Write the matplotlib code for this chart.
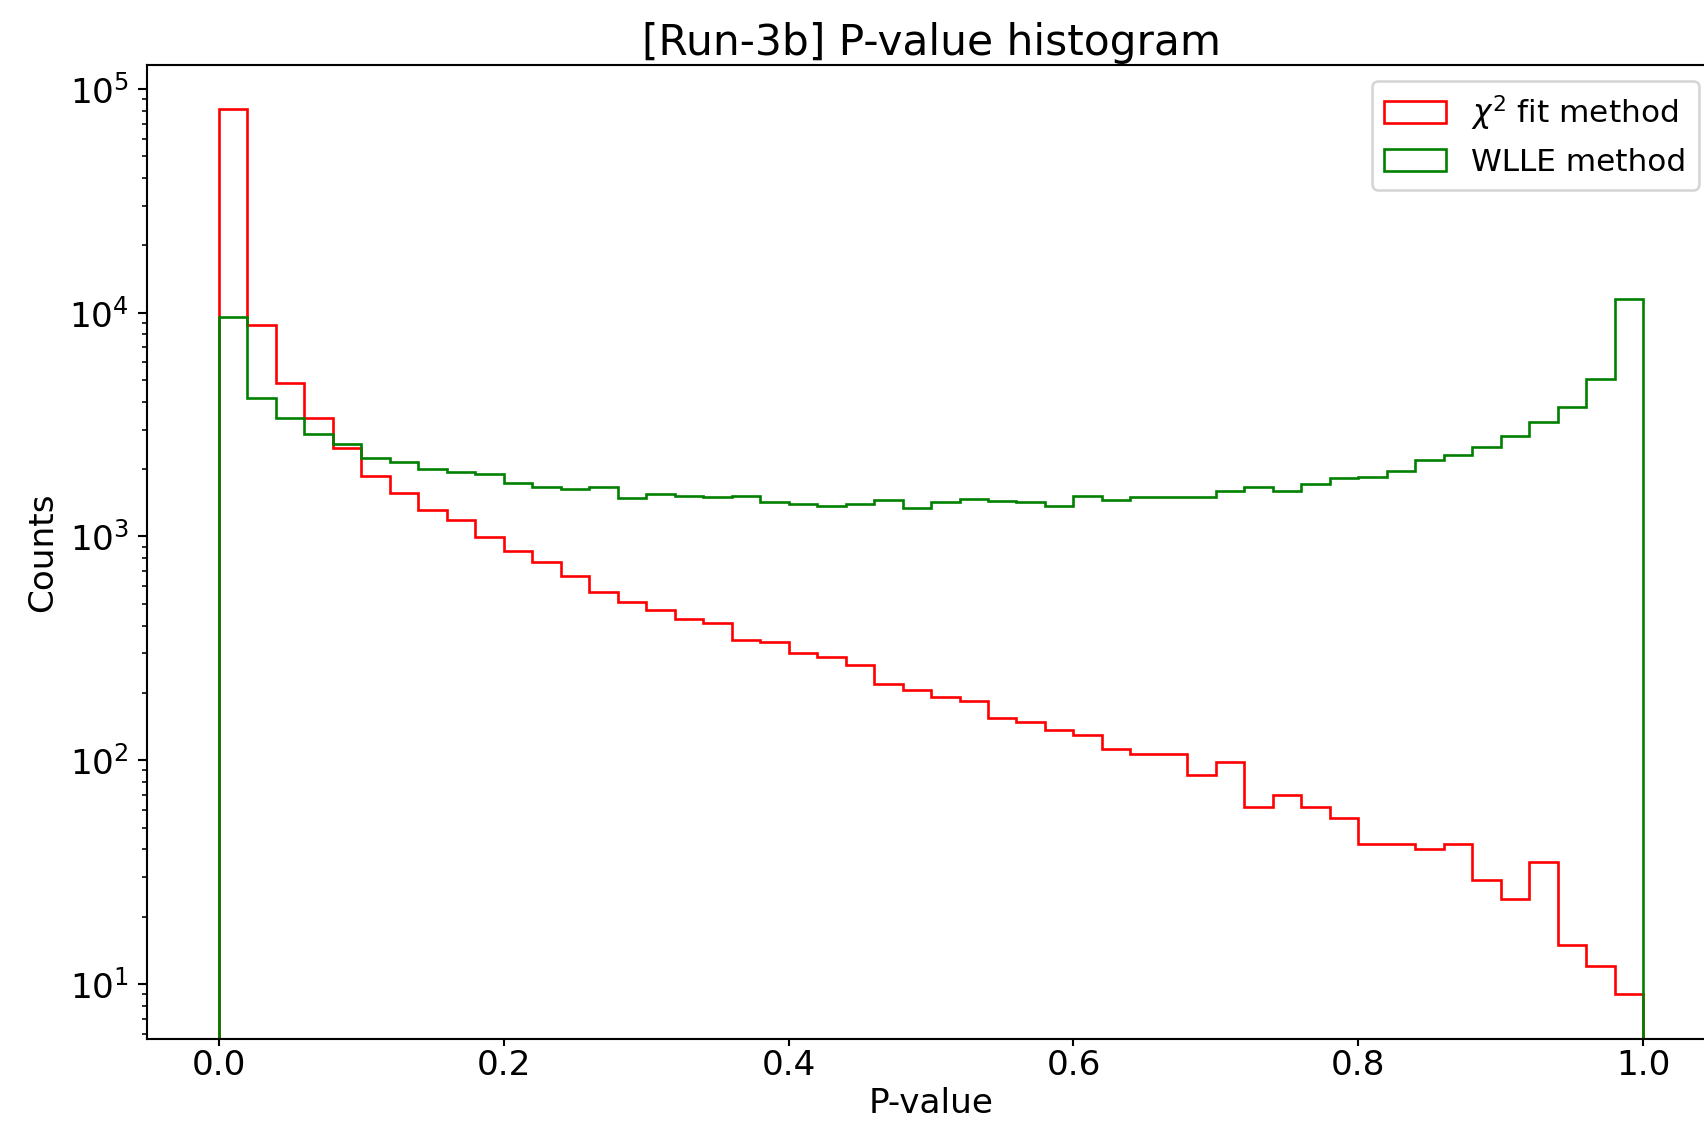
import numpy as np
import matplotlib
matplotlib.use('Agg')
import matplotlib.pyplot as plt

# 50 bins of width 0.02 over [0, 1]
n_bins = 50
chi2_counts = [81500, 8850, 4840, 3370, 2480, 1866, 1564, 1310, 1186, 990,
               860, 773, 667, 562, 512, 470, 427, 412, 345, 337,
               301, 288, 267, 219, 206, 192, 183, 155, 148, 136,
               130, 112, 107, 107, 86, 98, 62, 70, 62, 55,
               42, 42, 40, 42, 29, 24, 35, 15, 12, 9]
wlle_counts = [9530, 4170, 3370, 2880, 2596, 2245, 2142, 1995, 1933, 1905,
               1740, 1660, 1632, 1660, 1492, 1546, 1519, 1507, 1523, 1432,
               1400, 1375, 1400, 1459, 1346, 1429, 1469, 1437, 1429, 1371,
               1511, 1449, 1497, 1500, 1500, 1589, 1656, 1589, 1720, 1820,
               1850, 1958, 2188, 2305, 2510, 2806, 3247, 3776, 5070, 11520]

edges = np.linspace(0, 1, n_bins + 1)
centers = (edges[:-1] + edges[1:]) / 2

dpi = 190
fig = plt.figure(figsize=(1705 / dpi, 1122 / dpi), dpi=dpi)
ax = fig.add_axes([0.0865, 0.0744, 0.9191, 0.8676])

ax.hist(centers, bins=edges, weights=chi2_counts, histtype='step', color='r',
        log=True, label=r'$\chi^2$ fit method')
ax.hist(centers, bins=edges, weights=wlle_counts, histtype='step', color='g',
        log=True, label='WLLE method')

ax.set_xlim(-0.05, 1.05)
ax.set_ylim(5.7, 1.28e5)
ax.set_title('[Run-3b] P-value histogram', fontsize=16, pad=4)
ax.set_xlabel('P-value', fontsize=13, labelpad=2)
ax.set_ylabel('Counts', fontsize=13)
ax.tick_params(labelsize=13)
ax.tick_params(axis='x', length=2.5, pad=1.5)
ax.legend(loc='upper right', fontsize=11.8)

fig.savefig('out.png', dpi=dpi)
